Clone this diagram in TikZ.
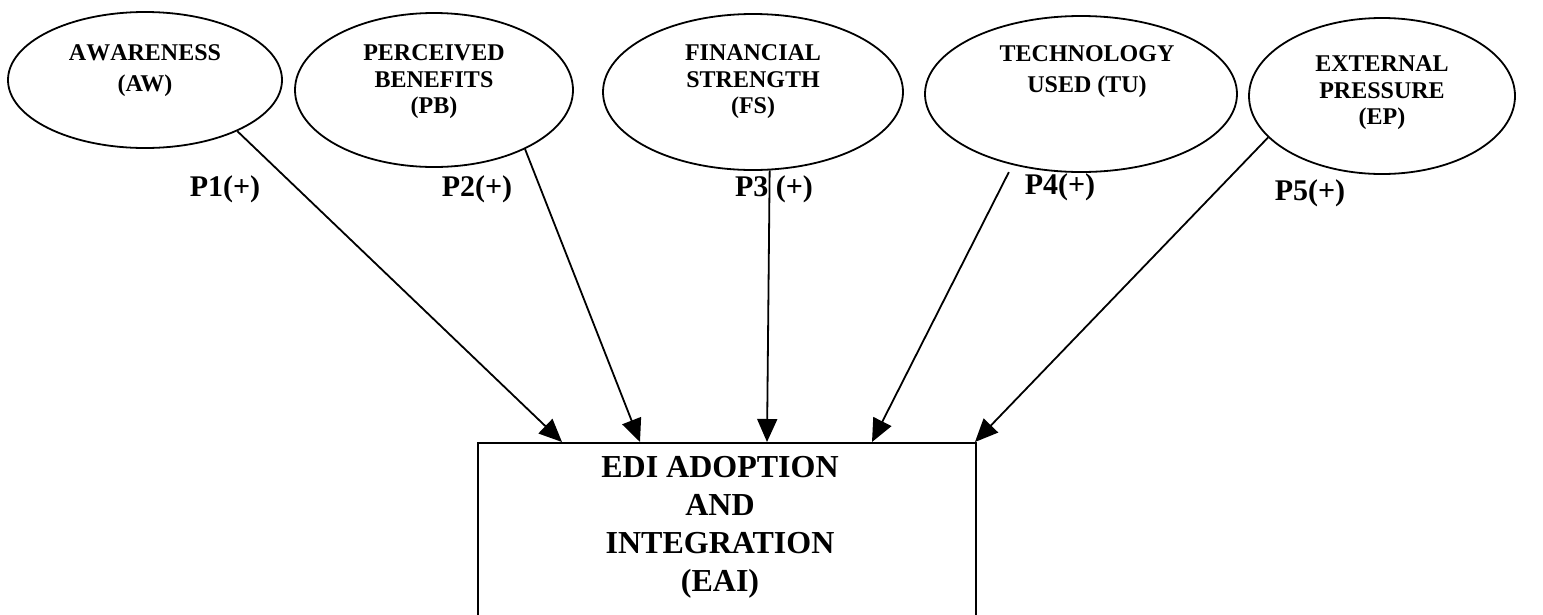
\documentclass[tikz,border=0pt]{standalone}
\usepackage{fontspec}
\setmainfont{Liberation Serif}
\usetikzlibrary{shapes.geometric,arrows.meta}
\tikzset{
  ell/.style={draw, ellipse, line width=1.8pt, inner sep=0pt},
  ltext/.style={font=\fontsize{24}{26.5}\selectfont\bfseries, align=center},
  ltexttwo/.style={font=\fontsize{24}{31}\selectfont\bfseries, align=center},
  plabel/.style={font=\fontsize{30}{32}\selectfont\bfseries, inner sep=0pt},
  conn/.style={line width=1.8pt, -{Triangle[length=23pt,width=20pt]}},
  boxstyle/.style={draw, line width=2pt, inner sep=0pt, anchor=north west},
  boxtext/.style={font=\fontsize{32}{38}\selectfont\bfseries, align=center}
}
\begin{document}
\begin{tikzpicture}[x=1pt,y=-1pt]
\clip (0,0) rectangle (1543,614);
\fill[white] (0,0) rectangle (1543,614);

\node[ell, minimum width=274pt, minimum height=136pt,
  label={[ltexttwo, yshift=9pt]center:{\addfontfeature{Kerning=Off}AWARENESS}\\(AW)}] (aw) at (145,80) {};
\node[ell, minimum width=278pt, minimum height=154pt,
  label={[ltext, yshift=8pt]center:PERCEIVED\\BENEFITS\\(PB)}] (pb) at (434,90) {};
\node[ell, minimum width=300pt, minimum height=156pt,
  label={[ltext, yshift=10pt]center:FINANCIAL\\STRENGTH\\(FS)}] (fs) at (753,92) {};
\node[ell, minimum width=312pt, minimum height=156pt,
  label={[ltexttwo, yshift=22pt, xshift=6pt]center:TECHNOLOGY\\USED (TU)}] (tu) at (1081,94) {};
\node[ell, minimum width=266pt, minimum height=156pt,
  label={[ltext, yshift=3pt]center:EXTERNAL\\PRESSURE\\(EP)}] (ep) at (1382,96) {};

\node[boxstyle, minimum width=498pt, minimum height=260pt] (eai) at (477,442) {};
\node[boxtext] (eaitext) at (720,527) {EDI ADOPTION\\AND\\INTEGRATION\\(EAI)};

\coordinate (t1) at (562,442);
\coordinate (t2) at (640,442);
\coordinate (t3) at (767,442);
\coordinate (t4) at (872,442);
\coordinate (t5) at (975,442);

\draw[conn] (aw.-29) -- (t1);
\draw[conn] (pb.-33) -- (t2);
\draw[conn] (fs.-78) -- (t3);
\draw[conn, shorten <=8pt] (tu.-134.6) -- (t4);
\draw[conn] (ep.-160) -- (t5);

\node[plabel] (p1) at (225,189) {P1(+)};
\node[plabel] (p2) at (477,189) {P2(+)};
\node[plabel] (p3) at (774,189) {P3 (+)};
\node[plabel] (p4) at (1060,187) {P4(+)};
\node[plabel] (p5) at (1310,193) {P5(+)};
\end{tikzpicture}
\end{document}
